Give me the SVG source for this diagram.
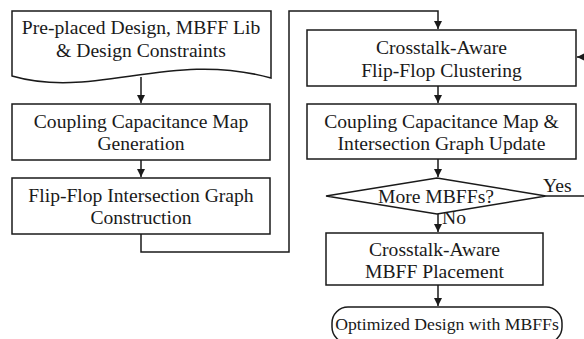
<svg xmlns="http://www.w3.org/2000/svg" width="584" height="339" viewBox="0 0 584 339">
<style>
.s{fill:#fff;stroke:#1a1a1a;stroke-width:1.5}
.c{fill:none;stroke:#1a1a1a;stroke-width:1.5}
text{font-size:19.6px;fill:#1a1a1a;text-anchor:middle}
.l{text-anchor:start}
.sm{font-size:17.7px}
</style>
<defs>
<marker id="ah" viewBox="0 0 10 10" refX="10" refY="5" markerWidth="8" markerHeight="8" markerUnits="userSpaceOnUse" orient="auto">
<path d="M0,0 L10,5 L0,10 Z" fill="#1a1a1a"/>
</marker>
</defs>
<rect width="584" height="339" fill="#fff"/>
<g font-family="Liberation Serif, DejaVu Serif, serif">
<g id="connectors">
<path class="c" d="M141,77 V103" marker-end="url(#ah)"/>
<path class="c" d="M141,160 V177" marker-end="url(#ah)"/>
<path class="c" d="M141,234 V252 H289 V11 H438 V29" marker-end="url(#ah)"/>
<path class="c" d="M438,86 V103" marker-end="url(#ah)"/>
<path class="c" d="M438,159 V177" marker-end="url(#ah)"/>
<path class="c" d="M438,214 V232" marker-end="url(#ah)"/>
<path class="c" d="M438,285 V306" marker-end="url(#ah)"/>
<path class="c" d="M546,196 H586 V57 H577" marker-end="url(#ah)"/>
<text class="l" x="543" y="192">Yes</text>
<text class="l" x="442" y="224">No</text>
</g>
<g id="input">
<path class="s" d="M12,11 H271 V78 C170,50 95,100 12,76 Z"/>
<text x="141" y="34">Pre-placed Design, MBFF Lib</text>
<text x="141" y="57">&amp; Design Constraints</text>
</g>
<g id="ccmap">
<rect class="s" x="12" y="104" width="258" height="56"/>
<text x="141" y="127.5">Coupling Capacitance Map</text>
<text x="141" y="150">Generation</text>
</g>
<g id="figraph">
<rect class="s" x="12" y="178" width="258" height="56"/>
<text x="141" y="201.5">Flip-Flop Intersection Graph</text>
<text x="141" y="224">Construction</text>
</g>
<g id="clustering">
<rect class="s" x="307" y="30" width="269" height="56"/>
<text x="441.5" y="54">Crosstalk-Aware</text>
<text x="441.5" y="76.5">Flip-Flop Clustering</text>
</g>
<g id="update">
<rect class="s" x="307" y="104" width="269" height="55"/>
<text x="441.5" y="127.5">Coupling Capacitance Map &amp;</text>
<text x="441.5" y="150">Intersection Graph Update</text>
</g>
<g id="decision">
<path class="s" d="M326,196 L437,178 L546,196 L437,214 Z"/>
<text x="436" y="202.5">More MBFFs?</text>
</g>
<g id="placement">
<rect class="s" x="326" y="233" width="217" height="52"/>
<text x="434.5" y="255.5">Crosstalk-Aware</text>
<text x="434.5" y="278">MBFF Placement</text>
</g>
<g id="output">
<rect class="s" x="332" y="307" width="230" height="36" rx="16"/>
<text class="sm" x="447" y="330">Optimized Design with MBFFs</text>
</g>
</g>
</svg>
